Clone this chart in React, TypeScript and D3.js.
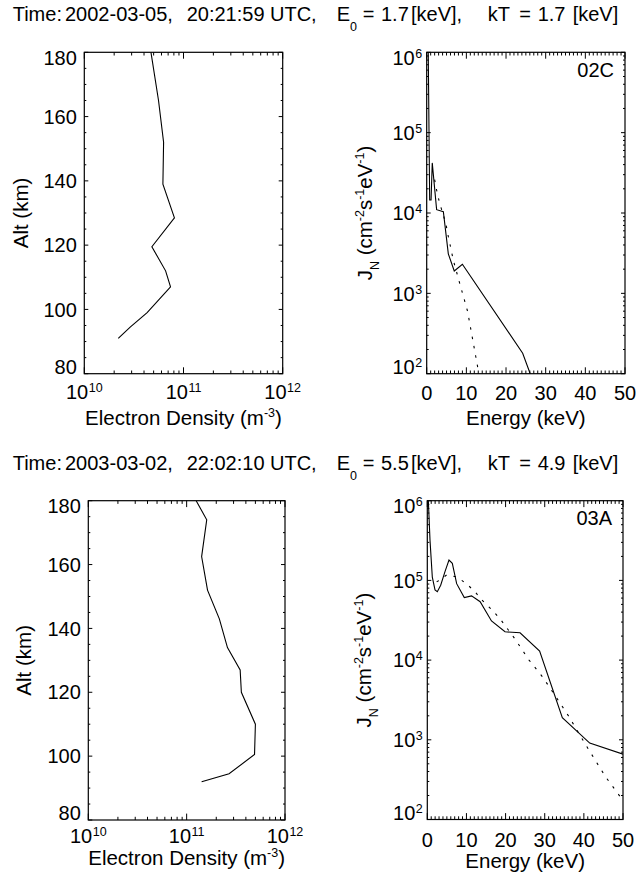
import React from "react";
import * as d3 from "d3";

const FONT = "'Liberation Sans', Arial, Helvetica, sans-serif";

// ---------- data ----------
const titleDates = ["2002-03-05,", "2003-03-02,"];
const titleClock = ["20:21:59", "22:02:10"];
const e0Values = ["1.7", "5.5"];
const kTValues = ["1.7", "4.9"];
const panelCodes = ["02C", "03A"];

const densTicks = [1e10, 1e11, 1e12];
const altTicks = [80, 100, 120, 140, 160, 180];
const energyTicks = [0, 10, 20, 30, 40, 50];
const fluxTicks = [1e2, 1e3, 1e4, 1e5, 1e6];

// event 1 (02C)
const alt1 = [180, 165, 152, 139, 128.5, 119.5, 112, 107, 99, 94.5, 91];
const dens1 = [4.7e10, 5.6e10, 6.3e10, 6.2e10, 8.1e10, 4.8e10, 6.6e10, 7.4e10, 4.3e10, 2.9e10, 2.2e10];
const energy1 = [0.33, 0.75, 1.1, 1.4, 2.5, 4.2, 5.45, 6.95, 9.0, 24.2, 26.1];
const flux1 = [2e6, 1.45e4, 1.45e4, 4.2e4, 1.1e4, 1.04e4, 3.1e3, 1.9e3, 2.3e3, 1.8e2, 1.0e2];
const fitEnergy1 = [2.0, 2.5, 3.2, 4.8, 5.45, 6.1, 6.7, 8.2, 10.3, 12.8, 13.1];
const fitFlux1 = [2.6e4, 1.93e4, 1.36e4, 7.5e3, 5.1e3, 3.6e3, 2.6e3, 1.4e3, 6.0e2, 1.25e2, 1.0e2];

// event 2 (03A)
const alt2 = [180, 174, 162.5, 152, 143, 134, 127, 120, 110, 100.5, 94.5, 92];
const dens2 = [1.25e11, 1.6e11, 1.42e11, 1.63e11, 2.15e11, 2.6e11, 3.5e11, 3.6e11, 5.0e11, 4.9e11, 2.7e11, 1.42e11];
const energy2 = [0.2, 0.69, 1.28, 1.97, 2.56, 3.42, 4.52, 5.54, 6.39, 7.5, 9.45, 11.3, 13.5, 16.4, 19.85, 23.7, 28.7, 34.5, 41.5, 50];
const flux2 = [1.2e6, 3.2e5, 1.1e5, 7.6e4, 7.2e4, 8.7e4, 1.29e5, 1.8e5, 1.64e5, 9.1e4, 6.1e4, 6.4e4, 5.4e4, 3.1e4, 2.27e4, 2.2e4, 1.3e4, 1.9e3, 9.1e2, 6.6e2];
const fitEnergy2 = [2.4, 3.24, 4.95, 7.67, 10.2, 12.2, 13.9, 16.45, 18.6, 20.4, 22.4, 26.0, 29.4, 32.8, 36.2, 40.5, 45.6, 49.4, 50];
const fitFlux2 = [9.6e4, 1.01e5, 1.17e5, 1.1e5, 8.9e4, 7.2e4, 5.7e4, 4.3e4, 3.3e4, 2.5e4, 1.84e4, 1.0e4, 6.2e3, 3.5e3, 1.95e3, 8.6e2, 3.4e2, 1.9e2, 1.65e2];

const altList = [alt1, alt2];
const densList = [dens1, dens2];
const energyList = [energy1, energy2];
const fluxList = [flux1, flux2];
const fitEnergyList = [fitEnergy1, fitEnergy2];
const fitFluxList = [fitFlux1, fitFlux2];

// ---------- layout ----------
type Box = { x0: number; x1: number; y0: number; y1: number };
const LEFT_BOXES: Box[] = [
  { x0: 84.3, x1: 282.7, y0: 52.3, y1: 373.7 },
  { x0: 88.3, x1: 285, y0: 500.7, y1: 820 },
];
const RIGHT_BOXES: Box[] = [
  { x0: 426.7, x1: 625, y0: 52.3, y1: 373.7 },
  { x0: 427.3, x1: 623, y0: 500.7, y1: 819.5 },
];
const TITLE_BASE = [20.7, 470];
const LEFT_XLAB = [25.5, 22.5];
const RIGHT_XLAB = [26.5, 27];
const LEFT_XTITLE = [51, 45];
const RIGHT_XTITLE = [51, 48];
const LEFT_YTITLE_X = [28, 31];
const RIGHT_YTITLE_X = [372, 371];

const FS = 20;
const FS_T = 20.5;
const FS_SUP = 12.5;
const XMAJ = 6.4;
const XMIN = 3.2;
const YMAJ = 4;
const YMIN = 2;

function clampBase(yv: number, b: Box) {
  const dh = 0.716 * FS;
  let base = yv + dh / 2;
  base = Math.max(base, b.y0 + dh - 1.6);
  base = Math.min(base, b.y1);
  return base;
}

function Frame({ b, id }: { b: Box; id: string }) {
  return (
    <>
      <defs>
        <clipPath id={id}>
          <rect x={b.x0} y={b.y0} width={b.x1 - b.x0} height={b.y1 - b.y0} />
        </clipPath>
      </defs>
      <rect x={b.x0} y={b.y0} width={b.x1 - b.x0} height={b.y1 - b.y0} fill="none" stroke="#000" strokeWidth={1.2} />
    </>
  );
}

function XTickMarks({ b, xs, len }: { b: Box; xs: number[]; len: number }) {
  return (
    <g stroke="#000" strokeWidth={1}>
      {xs.map((xv, i) => (
        <g key={i}>
          <line x1={xv} x2={xv} y1={b.y1} y2={b.y1 - len} />
          <line x1={xv} x2={xv} y1={b.y0} y2={b.y0 + len} />
        </g>
      ))}
    </g>
  );
}

function YTickMarks({ b, ys, len }: { b: Box; ys: number[]; len: number }) {
  return (
    <g stroke="#000" strokeWidth={1}>
      {ys.map((yv, i) => (
        <g key={i}>
          <line x1={b.x0} x2={b.x0 + len} y1={yv} y2={yv} />
          <line x1={b.x1} x2={b.x1 - len} y1={yv} y2={yv} />
        </g>
      ))}
    </g>
  );
}

function Pow({ v }: { v: number }) {
  const e = Math.round(Math.log10(v));
  return (
    <>
      <tspan>10</tspan>
      <tspan fontSize={FS_SUP} dy={-7} dx={0.5}>{String(e)}</tspan>
    </>
  );
}

function DensityPanel({ row }: { row: number }) {
  const b = LEFT_BOXES[row];
  const x = d3.scaleLog().domain([1e10, 1e12]).range([b.x0, b.x1]);
  const y = d3.scaleLinear().domain([80, 180]).range([b.y1, b.y0]);
  const alt = altList[row];
  const dens = densList[row];
  const line = d3
    .line<number>()
    .x((d) => x(dens[d]))
    .y((d) => y(alt[d]));
  const idx = d3.range(alt.length);
  const minorX = x.ticks().filter((v) => !densTicks.includes(v)).map((v) => x(v));
  const minorY = d3.range(80, 181, 5).filter((v) => !altTicks.includes(v)).map((v) => y(v));
  const id = `clipL${row}`;
  const cy = (b.y0 + b.y1) / 2;
  const cx = (b.x0 + b.x1) / 2;
  return (
    <g>
      <Frame b={b} id={id} />
      <XTickMarks b={b} xs={densTicks.map((v) => x(v))} len={XMAJ} />
      <XTickMarks b={b} xs={minorX} len={XMIN} />
      <YTickMarks b={b} ys={altTicks.map((v) => y(v))} len={YMAJ} />
      <YTickMarks b={b} ys={minorY} len={YMIN} />
      <path d={line(idx) || ""} fill="none" stroke="#000" strokeWidth={1.1} clipPath={`url(#${id})`} />
      {altTicks.map((v) => (
        <text key={v} x={b.x0 - 7.5} y={clampBase(y(v), b)} textAnchor="end" fontSize={FS}>
          {String(v)}
        </text>
      ))}
      {densTicks.map((v) => (
        <text key={v} x={x(v)} y={b.y1 + LEFT_XLAB[row]} textAnchor="middle" fontSize={FS}>
          <Pow v={v} />
        </text>
      ))}
      <text x={cx} y={b.y1 + LEFT_XTITLE[row]} textAnchor="middle" fontSize={FS_T}>
        <tspan>Electron Density (m</tspan>
        <tspan fontSize={FS_SUP} dy={-8}>-3</tspan>
        <tspan dy={8}>)</tspan>
      </text>
      <text
        transform={`translate(${LEFT_YTITLE_X[row]},${cy}) rotate(-90)`}
        textAnchor="middle"
        fontSize={FS_T}
      >
        Alt (km)
      </text>
    </g>
  );
}

function SpectrumPanel({ row }: { row: number }) {
  const b = RIGHT_BOXES[row];
  const x = d3.scaleLinear().domain([0, 50]).range([b.x0, b.x1]);
  const y = d3.scaleLog().domain([1e2, 1e6]).range([b.y1, b.y0]);
  const en = energyList[row];
  const fl = fluxList[row];
  const fen = fitEnergyList[row];
  const ffl = fitFluxList[row];
  const solid = d3
    .line<number>()
    .x((d) => x(en[d]))
    .y((d) => y(fl[d]));
  const dashed = d3
    .line<number>()
    .x((d) => x(fen[d]))
    .y((d) => y(ffl[d]));
  const minorX = d3.range(0, 51, 1).filter((v) => !energyTicks.includes(v)).map((v) => x(v));
  const minorY = y.ticks().filter((v) => !fluxTicks.includes(v)).map((v) => y(v));
  const id = `clipR${row}`;
  const cy = (b.y0 + b.y1) / 2;
  const cx = (b.x0 + b.x1) / 2;
  return (
    <g>
      <Frame b={b} id={id} />
      <XTickMarks b={b} xs={energyTicks.map((v) => x(v))} len={XMAJ} />
      <XTickMarks b={b} xs={minorX} len={XMIN} />
      <YTickMarks b={b} ys={fluxTicks.map((v) => y(v))} len={YMAJ} />
      <YTickMarks b={b} ys={minorY} len={YMIN} />
      <g clipPath={`url(#${id})`}>
        <path d={solid(d3.range(en.length)) || ""} fill="none" stroke="#000" strokeWidth={1.1} />
        <path
          d={dashed(d3.range(fen.length)) || ""}
          fill="none"
          stroke="#000"
          strokeWidth={1.1}
          strokeDasharray="2.5,7"
        />
      </g>
      {fluxTicks.map((v) => (
        <text key={v} x={b.x0 - 4.5} y={clampBase(y(v), b)} textAnchor="end" fontSize={FS}>
          <Pow v={v} />
        </text>
      ))}
      {energyTicks.map((v) => (
        <text key={v} x={x(v)} y={b.y1 + RIGHT_XLAB[row]} textAnchor="middle" fontSize={FS}>
          {String(v)}
        </text>
      ))}
      <text x={b.x1 - 11} y={b.y0 + 24.7} textAnchor="end" fontSize={FS}>
        {panelCodes[row]}
      </text>
      <text x={cx} y={b.y1 + RIGHT_XTITLE[row]} textAnchor="middle" fontSize={FS_T}>
        Energy (keV)
      </text>
      <text
        transform={`translate(${RIGHT_YTITLE_X[row]},${cy}) rotate(-90)`}
        textAnchor="middle"
        fontSize={FS_T}
      >
        <tspan>J</tspan>
        <tspan fontSize={FS_SUP} dy={7}>N</tspan>
        <tspan dy={-7}> (cm</tspan>
        <tspan fontSize={FS_SUP} dy={-8}>-2</tspan>
        <tspan dy={8}>s</tspan>
        <tspan fontSize={FS_SUP} dy={-8}>-1</tspan>
        <tspan dy={8}>eV</tspan>
        <tspan fontSize={FS_SUP} dy={-8}>-1</tspan>
        <tspan dy={8}>)</tspan>
      </text>
    </g>
  );
}

// x positions of the title's words (layout)
const TITLE_WORD_X = [12.7, 65, 186.7, 270, 336.7, 362.7, 381, 411, 487.7, 519.3, 537.7, 572.7];

function Title({ row }: { row: number }) {
  const yb = TITLE_BASE[row];
  const words = ["Time:", titleDates[row], titleClock[row], "UTC,"];
  const X = TITLE_WORD_X;
  return (
    <g>
      {words.map((w, i) => (
        <text key={i} x={X[i]} y={yb} fontSize={FS}>
          {w}
        </text>
      ))}
      <text x={X[4]} y={yb} fontSize={FS}>
        <tspan>E</tspan>
        <tspan fontSize={FS_SUP} dy={10}>0</tspan>
      </text>
      <text x={X[5]} y={yb} fontSize={FS}>=</text>
      <text x={X[6]} y={yb} fontSize={FS}>{e0Values[row]}</text>
      <text x={X[7]} y={yb} fontSize={FS}>[keV],</text>
      <text x={X[8]} y={yb} fontSize={FS}>kT</text>
      <text x={X[9]} y={yb} fontSize={FS}>=</text>
      <text x={X[10]} y={yb} fontSize={FS}>{kTValues[row]}</text>
      <text x={X[11]} y={yb} fontSize={FS}>[keV]</text>
    </g>
  );
}

export default function App() {
  return (
    <svg
      width={636}
      height={880}
      viewBox="0 0 636 880"
      style={{ position: "absolute", left: 0, top: 0, background: "#fff" }}
      fontFamily={FONT}
      fill="#000"
    >
      <rect x={0} y={0} width={636} height={880} fill="#fff" />
      {[0, 1].map((r) => (
        <g key={r}>
          <Title row={r} />
          <DensityPanel row={r} />
          <SpectrumPanel row={r} />
        </g>
      ))}
    </svg>
  );
}
